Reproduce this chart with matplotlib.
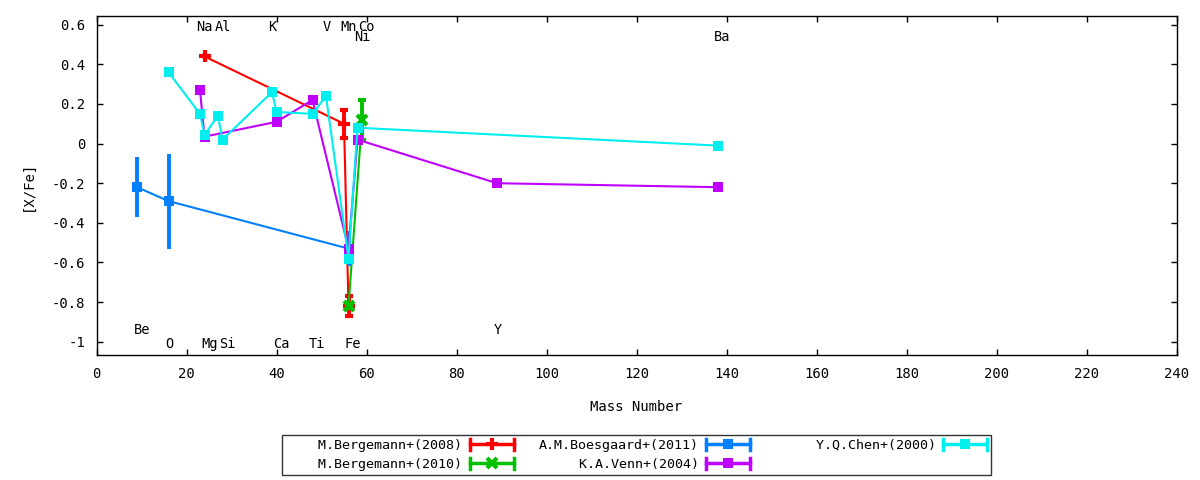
import matplotlib
matplotlib.use("Agg")
import matplotlib.pyplot as plt
from matplotlib.lines import Line2D
from matplotlib.legend_handler import HandlerBase
from matplotlib.ticker import FuncFormatter, MultipleLocator

# ---------------- data ----------------
berg08_x = [24, 55, 56]
berg08_y = [0.44, 0.10, -0.82]
berg08_e = [0.0, 0.07, 0.05]

berg10_x = [56, 59]
berg10_y = [-0.82, 0.12]
berg10_e = [0.01, 0.10]

boes11_x = [9, 16, 56]
boes11_y = [-0.22, -0.29, -0.53]
boes11_e = [0.15, 0.24, 0.09]

venn04_x = [23, 24, 40, 48, 56, 58, 89, 138]
venn04_y = [0.27, 0.035, 0.11, 0.22, -0.53, 0.02, -0.20, -0.22]

chen00_x = [16, 23, 24, 27, 28, 39, 40, 48, 51, 56, 58, 138]
chen00_y = [0.36, 0.15, 0.045, 0.14, 0.02, 0.26, 0.16, 0.15, 0.24, -0.58, 0.08, -0.01]

series_labels = ["M.Bergemann+(2008)", "M.Bergemann+(2010)", "A.M.Boesgaard+(2011)",
                 "K.A.Venn+(2004)", "Y.Q.Chen+(2000)"]

elem_names = ["Na", "Al", "K", "V", "Mn", "Co", "Ni", "Ba",
              "Be", "O", "Mg", "Si", "Ca", "Ti", "Fe", "Y"]
elem_mass = [23, 27, 39, 51, 55, 59, 58, 138,
             9, 16, 24, 28, 40, 48, 56, 89]
elem_ypos = [0.59, 0.59, 0.59, 0.59, 0.59, 0.59, 0.54, 0.54,
             -0.943, -1.012, -1.012, -1.012, -1.012, -1.012, -1.012, -0.943]

x_label = "Mass Number"
y_label = "[X/Fe]"

# ---------------- style ----------------
plt.rcParams['font.family'] = ['DejaVu Sans Mono', 'DejaVu Sans']
plt.rcParams['font.size'] = 10
plt.rcParams['axes.unicode_minus'] = False

RED, GREEN, BLUE, PURPLE, CYAN = '#ff0000', '#00c000', '#0080ff', '#c000ff', '#00eeee'

fig = plt.figure(figsize=(12, 4.8), dpi=100)
ax = fig.add_axes([96.5/1200, 1-355/480, 1080/1200, (355-16)/480])

lw = 1.5
eb_kw = dict(capsize=2.7, elinewidth=2.8, capthick=2.5)

ax.errorbar(berg08_x, berg08_y, yerr=berg08_e, color=RED, lw=lw, marker='+',
            ms=8, mew=3, zorder=3, **eb_kw)
ax.errorbar(berg10_x, berg10_y, yerr=berg10_e, color=GREEN, lw=lw, marker='x',
            ms=6.5, mew=3, zorder=4, **eb_kw)
ax.errorbar(boes11_x, boes11_y, yerr=boes11_e, color=BLUE, lw=lw, marker='s',
            ms=7, mew=0, zorder=5, **eb_kw)
ax.plot(venn04_x, venn04_y, color=PURPLE, lw=lw, marker='s', ms=7, mew=0, zorder=6)
ax.plot(chen00_x, chen00_y, color=CYAN, lw=lw, marker='s', ms=7, mew=0, zorder=7)

for name, m, yv in zip(elem_names, elem_mass, elem_ypos):
    ax.text(m - 0.8, yv, name, ha='left', va='center', fontsize=9.8, zorder=8)

ax.set_xlim(0, 240)
ax.set_ylim(-1.067, 0.644)
ax.xaxis.set_major_locator(MultipleLocator(20))
ax.yaxis.set_major_locator(MultipleLocator(0.2))

def yfmt(v, pos):
    v = round(v, 6)
    if abs(v) < 1e-9:
        return "0"
    return f"{v:g}"

ax.yaxis.set_major_formatter(FuncFormatter(yfmt))
ax.tick_params(direction='in', length=4, width=1, top=True, right=True,
               labelsize=10, colors='black')
ax.tick_params(axis='x', pad=9)
ax.tick_params(axis='y', pad=8)
for s in ax.spines.values():
    s.set_linewidth(1)
    s.set_color('black')

ax.set_xlabel(x_label, fontsize=10, labelpad=13)
ax.set_ylabel(y_label, fontsize=10, labelpad=12)


# ---------------- legend (gnuplot-like samples) ----------------
class GPHandler(HandlerBase):
    def create_artists(self, legend, orig_handle, xdescent, ydescent, width,
                       height, fontsize, trans):
        c = orig_handle.get_color()
        y = height / 2 - ydescent
        x0 = -xdescent
        x1 = x0 + width
        ch = 4.0
        arts = [
            Line2D([x0, x1], [y, y], color=c, lw=2.5, transform=trans),
            Line2D([x0, x0], [y - ch, y + ch], color=c, lw=2.5, transform=trans),
            Line2D([x1, x1], [y - ch, y + ch], color=c, lw=2.5, transform=trans),
            Line2D([(x0 + x1) / 2], [y], color=c, lw=0,
                   marker=orig_handle.get_marker(),
                   ms=orig_handle.get_markersize(),
                   mew=orig_handle.get_markeredgewidth(), transform=trans),
        ]
        return arts


handles = [
    Line2D([], [], color=RED, marker='+', ms=8, mew=3),
    Line2D([], [], color=GREEN, marker='x', ms=6.5, mew=3),
    Line2D([], [], color=BLUE, marker='s', ms=7, mew=0),
    Line2D([], [], color=PURPLE, marker='s', ms=7, mew=0),
    Line2D([], [], color=CYAN, marker='s', ms=7, mew=0),
]
pad_widths = [22, 22, 20, 20, 20]
labels = [lab.rjust(w) for lab, w in zip(series_labels, pad_widths)]

leg = fig.legend(handles, labels, handler_map={Line2D: GPHandler()},
                 loc='upper center', bbox_to_anchor=(636.5/1200, 1-435/480),
                 ncol=3, markerfirst=False, frameon=True, fancybox=False,
                 borderpad=0.3, handlelength=3.3, handletextpad=0.55,
                 columnspacing=1.9, labelspacing=0.45, borderaxespad=0,
                 fontsize=9.6)
leg.get_frame().set_edgecolor('black')
leg.get_frame().set_linewidth(1)

fig.savefig("out.png", dpi=100)
